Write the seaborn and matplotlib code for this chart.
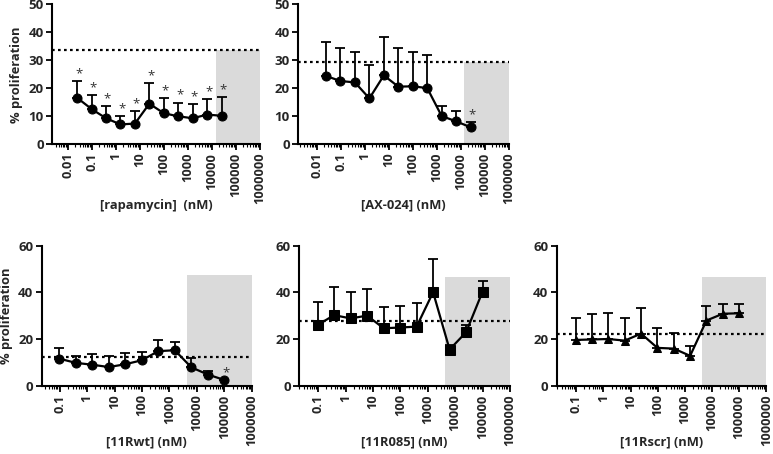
import numpy as np
import seaborn as sns
import matplotlib.pyplot as plt
from matplotlib.ticker import FixedLocator, LogLocator, NullFormatter

sns.set_style("ticks")
plt.rcParams['font.family'] = ['Open Sans', 'DejaVu Sans']
plt.rcParams['font.weight'] = 'bold'

# concentrations (4-fold dilutions)
conc_top = [25000 / 4 ** k for k in range(10, -1, -1)]
conc_bot = [100000 / 4 ** k for k in range(10, -1, -1)]

rapa_mean = [16.6, 12.6, 9.3, 7.1, 7.4, 14.5, 11.1, 10.0, 9.3, 10.6, 10.2]
rapa_top = [22.6, 17.6, 13.7, 10.2, 11.8, 21.9, 16.6, 14.9, 14.4, 16.2, 16.9]
rapa_star = [True] * 11

ax024_mean = [24.4, 22.6, 22.1, 16.4, 24.6, 20.6, 20.7, 20.1, 10.1, 8.2, 6.1]
ax024_top = [36.6, 34.5, 33.1, 28.3, 38.3, 34.5, 33.1, 32.0, 13.8, 12.0, 7.9]
ax024_star = [False] * 10 + [True]

wt_mean = [11.7, 9.9, 9.1, 8.1, 9.3, 11.0, 14.9, 15.3, 8.0, 4.9, 2.6]
wt_top = [16.4, 12.9, 13.7, 12.9, 14.3, 14.6, 19.7, 18.9, 12.1, 6.6, 2.6]
wt_star = [False] * 10 + [True]

r085_mean = [26.1, 30.3, 28.9, 30.1, 24.7, 25.0, 25.4, 40.1, 15.6, 23.0, 40.4]
r085_top = [36.1, 42.3, 40.4, 41.6, 33.7, 34.4, 35.4, 54.3, 17.4, 26.1, 45.0]

scr_mean = [19.7, 19.9, 20.1, 19.4, 22.4, 16.3, 16.0, 12.9, 28.0, 30.9, 31.1]
scr_top = [29.1, 30.6, 31.4, 28.9, 33.4, 24.9, 22.6, 17.3, 34.3, 34.9, 35.1]

baseline = {"rapa": 33.7, "ax024": 29.5, "wt": 12.3, "r085": 27.7, "scr": 22.4}
shade_from = {"rapa": 15000, "ax024": 14000, "wt": 4200, "r085": 4200, "scr": 4200}
shade_top = {"rapa": 33.7, "ax024": 29.5, "wt": 47.3, "r085": 46.7, "scr": 46.7}

W, H = 773, 454
fig = plt.figure(figsize=(W / 100, H / 100), dpi=100)


def make_ax(l, r, t, b):
    return fig.add_axes([l / W, 1 - b / H, (r - l) / W, (b - t) / H])


def panel(ax, key, conc, mean, top, marker, xlabel, ymax, yticks, xmin, decades,
          label_y, stars=None, ylabel=None):
    ax.fill_between([shade_from[key], 1e6], 0, shade_top[key], color='#dadada', lw=0, zorder=0)
    ax.axhline(baseline[key], color='black', ls=(0, (1.2, 1.5)), lw=1.6, zorder=1)
    lower = np.zeros(len(mean))
    upper = np.array(top) - np.array(mean)
    ax.errorbar(conc, mean, yerr=[lower, upper], fmt='none', ecolor='black',
                elinewidth=1.3, capsize=3.5, capthick=1.3, zorder=2)
    sns.lineplot(x=conc, y=mean, ax=ax, color='black', lw=1.6, marker=marker,
                 markersize=6.5 if marker != '^' else 6, markeredgecolor='black',
                 estimator=None, zorder=3)
    if stars is not None:
        for c, t, s in zip(conc, top, stars):
            if s:
                ax.text(c * 1.15, t + 0.3, '*', ha='center', va='bottom', fontsize=9.5,
                        color='#333333', fontweight='normal')
    ax.set_xscale('log')
    ax.set_xlim(xmin, 1e6)
    ax.set_ylim(0, ymax)
    ax.set_yticks(yticks)
    ax.xaxis.set_major_locator(FixedLocator(decades))
    ax.set_xticklabels([f"{d:g}" if d < 1 else str(int(d)) for d in decades],
                       rotation=90, fontsize=9.2, fontweight='bold')
    ax.xaxis.set_minor_locator(LogLocator(base=10, subs=np.arange(2, 10), numticks=50))
    ax.xaxis.set_minor_formatter(NullFormatter())
    for lab in ax.get_yticklabels():
        lab.set_fontsize(9.5)
        lab.set_fontweight('bold')
    ax.tick_params(axis='both', which='major', length=4, width=1.3, color='black', pad=2)
    ax.tick_params(axis='x', which='minor', length=2, width=0.8, color='black')
    for sp in ['left', 'bottom']:
        ax.spines[sp].set_linewidth(1.5)
        ax.spines[sp].set_color('black')
    sns.despine(ax=ax)
    ax.set_xlabel(xlabel, fontsize=9.3, fontweight='bold')
    ax.xaxis.set_label_coords(0.5, label_y)
    if ylabel:
        ax.set_ylabel(ylabel, fontsize=9.3, fontweight='bold', labelpad=4)
    else:
        ax.set_ylabel('')


dec_top = [0.01, 0.1, 1, 10, 100, 1000, 10000, 100000, 1000000]
dec_bot = [0.1, 1, 10, 100, 1000, 10000, 100000, 1000000]

ax1 = make_ax(52, 260, 4.3, 144.3)
panel(ax1, "rapa", conc_top, rapa_mean, rapa_top, 'o', '[rapamycin]  (nM)', 50,
      [0, 10, 20, 30, 40, 50], 10 ** -2.67, dec_top, -0.39,
      stars=rapa_star, ylabel='% proliferation')

ax2 = make_ax(298, 509, 4.3, 144.3)
panel(ax2, "ax024", conc_top, ax024_mean, ax024_top, 'o', '[AX-024] (nM)', 50,
      [0, 10, 20, 30, 40, 50], 10 ** -2.79, dec_top, -0.39, stars=ax024_star)

ax3 = make_ax(41.7, 251.7, 245.7, 386)
panel(ax3, "wt", conc_bot, wt_mean, wt_top, 'o', '[11Rwt] (nM)', 60,
      [0, 20, 40, 60], 10 ** -1.66, dec_bot, -0.35,
      stars=wt_star, ylabel='% proliferation')

ax4 = make_ax(299, 510, 245.7, 386)
panel(ax4, "r085", conc_bot, r085_mean, r085_top, 's', '[11R085] (nM)', 60,
      [0, 20, 40, 60], 10 ** -1.7, dec_bot, -0.35)

ax5 = make_ax(556.7, 766.3, 245.7, 386)
panel(ax5, "scr", conc_bot, scr_mean, scr_top, '^', '[11Rscr] (nM)', 60,
      [0, 20, 40, 60], 10 ** -1.72, dec_bot, -0.35)

fig.savefig('out.png', dpi=100)
